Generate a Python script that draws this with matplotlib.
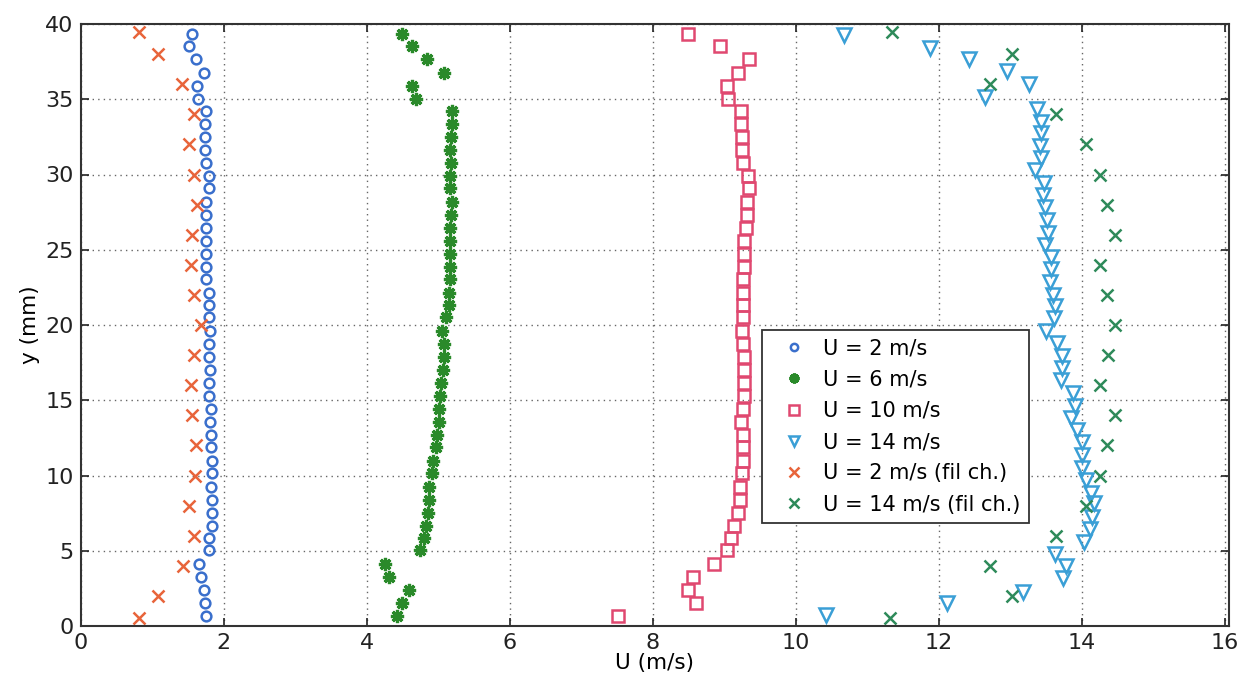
import matplotlib
matplotlib.use("Agg")
import matplotlib.pyplot as plt

plt.rcParams['font.family'] = ['DejaVu Sans']

# y positions (mm) for the U=2, 6, 10 m/s profiles
y_a = [0.69, 1.51, 2.39, 3.28, 4.10, 5.05, 5.83, 6.67, 7.53, 8.37, 9.22, 10.15,
       10.98, 11.87, 12.69, 13.57, 14.42, 15.28, 16.17, 17.01, 17.90, 18.72,
       19.60, 20.51, 21.33, 22.15, 23.04, 23.87, 24.72, 25.60, 26.45, 27.33,
       28.19, 29.08, 29.90, 30.79, 31.63, 32.51, 33.33, 34.22, 35.00, 35.88,
       36.77, 37.65, 38.54, 39.33]

u2 = [1.75, 1.74, 1.73, 1.68, 1.66, 1.79, 1.80, 1.84, 1.84, 1.84, 1.82, 1.84,
      1.84, 1.83, 1.83, 1.81, 1.82, 1.80, 1.80, 1.81, 1.80, 1.80, 1.81, 1.79,
      1.79, 1.79, 1.75, 1.75, 1.75, 1.75, 1.75, 1.75, 1.76, 1.79, 1.79, 1.75,
      1.74, 1.74, 1.74, 1.76, 1.64, 1.63, 1.73, 1.61, 1.52, 1.56]

u6 = [4.43, 4.50, 4.59, 4.31, 4.26, 4.75, 4.80, 4.83, 4.86, 4.87, 4.87, 4.92,
      4.93, 4.97, 4.99, 5.01, 5.02, 5.03, 5.04, 5.07, 5.08, 5.08, 5.05, 5.11,
      5.15, 5.15, 5.17, 5.17, 5.17, 5.17, 5.17, 5.18, 5.19, 5.17, 5.16, 5.18,
      5.17, 5.18, 5.20, 5.19, 4.69, 4.63, 5.08, 4.84, 4.64, 4.49]

u10 = [7.51, 8.60, 8.49, 8.56, 8.86, 9.04, 9.10, 9.14, 9.20, 9.22, 9.22, 9.25,
       9.27, 9.27, 9.26, 9.24, 9.27, 9.28, 9.28, 9.28, 9.28, 9.26, 9.25, 9.27,
       9.27, 9.27, 9.27, 9.28, 9.28, 9.28, 9.30, 9.32, 9.32, 9.35, 9.34, 9.27,
       9.25, 9.25, 9.24, 9.24, 9.06, 9.04, 9.19, 9.35, 8.94, 8.49]

# y positions (mm) for the U=14 m/s profile
y_b = [0.70, 1.51, 2.28, 3.17, 4.01, 4.78, 5.60, 6.43, 7.22, 8.15, 8.86, 9.70,
       10.52, 11.36, 12.21, 13.02, 13.84, 14.62, 15.46, 16.35, 17.12, 17.94,
       18.78, 19.62, 20.45, 21.28, 21.99, 22.84, 23.70, 24.50, 25.32, 26.13,
       26.98, 27.82, 28.64, 29.41, 30.30, 31.07, 31.89, 32.74, 33.51, 34.35,
       35.17, 35.99, 36.85, 37.65, 38.43, 39.27]

u14 = [10.43, 12.11, 13.18, 13.74, 13.78, 13.62, 14.03, 14.12, 14.14, 14.17,
       14.13, 14.06, 14.01, 14.00, 14.00, 13.94, 13.85, 13.91, 13.88, 13.71,
       13.72, 13.72, 13.65, 13.50, 13.61, 13.63, 13.60, 13.55, 13.57, 13.57,
       13.49, 13.53, 13.52, 13.49, 13.46, 13.48, 13.35, 13.43, 13.42, 13.43,
       13.43, 13.37, 12.65, 13.27, 12.96, 12.42, 11.88, 10.68]

# hot-wire ("fil ch.") profiles
y_fc = [0.5, 2, 4, 6, 8, 10, 12, 14, 16, 18, 20, 22, 24, 26, 28, 30, 32, 34,
        36, 38, 39.5]
u2_fc = [0.82, 1.08, 1.43, 1.59, 1.52, 1.60, 1.62, 1.56, 1.55, 1.59, 1.68,
         1.59, 1.54, 1.56, 1.63, 1.59, 1.52, 1.59, 1.42, 1.08, 0.82]
u14_fc = [11.32, 13.02, 12.72, 13.64, 14.06, 14.26, 14.36, 14.47, 14.26, 14.37,
          14.47, 14.36, 14.25, 14.46, 14.36, 14.25, 14.06, 13.64, 12.72, 13.02,
          11.35]

labels = ['U = 2 m/s', 'U = 6 m/s', 'U = 10 m/s', 'U = 14 m/s',
          'U = 2 m/s (fil ch.)', 'U = 14 m/s (fil ch.)']
xticks = [0, 2, 4, 6, 8, 10, 12, 14, 16]
yticks = [0, 5, 10, 15, 20, 25, 30, 35, 40]

fig = plt.figure(figsize=(12.55, 6.92), dpi=100)
ax = fig.add_axes([80.5 / 1255, 1 - 626 / 692, (1229 - 80.5) / 1255, (626 - 24) / 692])

ax.plot(u2, y_a, linestyle='none', marker='o', ms=7, mfc='none', mec='#3a6fcc',
        mew=1.8, label=labels[0])
ax.plot(u6, y_a, linestyle='none', marker=(8, 2, 0), ms=9.5, mfc='#2a8a2a',
        mec='#2a8a2a', mew=2.3, label=labels[1])
ax.plot(u10, y_a, linestyle='none', marker='s', ms=9, mfc='none', mec='#e04870',
        mew=1.8, label=labels[2])
ax.plot(u14, y_b, linestyle='none', marker='v', ms=9.5, mfc='none', mec='#3a9fd6',
        mew=1.8, label=labels[3])
ax.plot(u2_fc, y_fc, linestyle='none', marker='x', ms=9, mec='#e8643a',
        mew=1.8, label=labels[4])
ax.plot(u14_fc, y_fc, linestyle='none', marker='x', ms=9, mec='#2e8a5a',
        mew=1.8, label=labels[5])

ax.set_xlim(0, 16.06)
ax.set_ylim(0, 40)
ax.set_xticks(xticks)
ax.set_yticks(yticks)
ax.tick_params(direction='in', top=True, right=True, length=6, width=1.2,
               labelsize=16, colors='#222222', pad=5)
ax.grid(True, linestyle=(0, (1, 3)), color='#666666', linewidth=1.0)
for s in ax.spines.values():
    s.set_linewidth(1.5)
    s.set_color('#333333')

ax.set_xlabel('U (m/s)', fontsize=15.5, labelpad=0)
ax.set_ylabel('y (mm)', fontsize=15.5, labelpad=4)

leg = ax.legend(loc='upper left', bbox_to_anchor=(0.5934, 0.4917),
                borderaxespad=0, fontsize=15, numpoints=1, markerscale=0.75,
                handlelength=2.28, handletextpad=0.25, labelspacing=0.54,
                borderpad=0.4, fancybox=False, framealpha=1, edgecolor='#333333')
leg.get_frame().set_linewidth(1.3)

fig.savefig('out.png', dpi=100)
